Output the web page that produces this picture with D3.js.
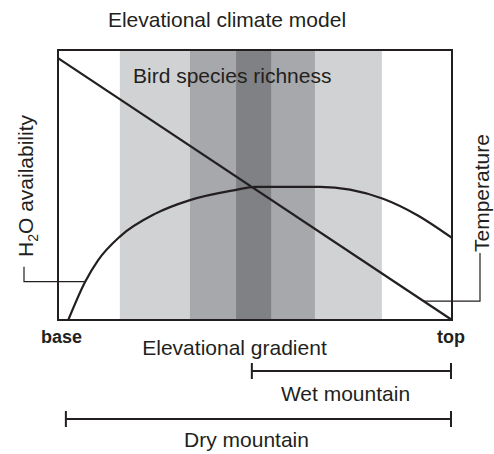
<!DOCTYPE html>
<html lang="en">
    <head>
        <meta charset="utf-8">
        <title>Elevational climate model</title>
        <script type="text/javascript" src="https://cdn.jsdelivr.net/npm/d3@7"></script>
        <style type="text/css">
            body { margin: 0; background: #fff; }
            text { font-family: "Liberation Sans", Arial, sans-serif; fill: #231f20; }
        </style>
    </head>
    <body>
        <script type="text/javascript">
        // richness bands along the gradient (percent of gradient)
        var bandLevels = ["low", "mid", "high"];
        var bandStart = [15.7, 33.5, 45.2];
        var bandEnd = [82.2, 65.2, 54.1];

        // H2O availability curve
        var h2oElevation = [2.6, 6.9, 10.2, 15.7, 24.6, 33.5, 44.9, 50, 66.5, 74.1, 82.5, 91.1, 100];
        var h2oValue = [0, 14.2, 22.2, 30.9, 39.3, 44.4, 48.1, 49.3, 49.3, 48.3, 44.9, 38.9, 30.4];

        // temperature line
        var tempElevation = [0, 100];
        var tempValue = [97, 0];

        // mountain ranges
        var rangeNames = ["Wet mountain", "Dry mountain"];
        var rangeStart = [49.2, 2];
        var rangeEnd = [100, 100];

        var w = 494;
        var h = 454;
        var ink = "#231f20";
        var bandColors = ["#d1d2d4", "#a7a8ab", "#808184"];

        var svg = d3.select("body")
                    .append("svg")
                    .attr("width", w)
                    .attr("height", h);

        var x = d3.scaleLinear().domain([0, 100]).range([58, 452]);
        var y = d3.scaleLinear().domain([0, 100]).range([320, 50]);

        // bands
        svg.selectAll("rect.band")
           .data(bandLevels)
           .enter()
           .append("rect")
           .attr("class", "band")
           .attr("x", function(d, i) { return x(bandStart[i]); })
           .attr("width", function(d, i) { return x(bandEnd[i]) - x(bandStart[i]); })
           .attr("y", y(100))
           .attr("height", y(0) - y(100))
           .attr("fill", function(d, i) { return bandColors[i]; });

        // frame
        svg.append("rect")
           .attr("x", x(0))
           .attr("y", y(100))
           .attr("width", x(100) - x(0))
           .attr("height", y(0) - y(100))
           .attr("fill", "none")
           .attr("stroke", ink)
           .attr("stroke-width", 2);

        var h2o = h2oElevation.map(function(e, i) { return [e, h2oValue[i]]; });
        var temp = tempElevation.map(function(e, i) { return [e, tempValue[i]]; });

        var line = d3.line()
            .x(function(d) { return x(d[0]); })
            .y(function(d) { return y(d[1]); });

        svg.append("path")
           .datum(h2o)
           .attr("d", line.curve(d3.curveMonotoneX))
           .attr("fill", "none")
           .attr("stroke", ink)
           .attr("stroke-width", 2.2);

        svg.append("path")
           .datum(temp)
           .attr("d", line.curve(d3.curveLinear))
           .attr("fill", "none")
           .attr("stroke", ink)
           .attr("stroke-width", 2.2);

        // leader lines
        var h2oHit = h2o[1];
        svg.append("path")
           .attr("d", "M24," + (y(h2oHit[1]) - 15) + "V" + y(h2oHit[1]) + "H" + x(h2oHit[0]))
           .attr("fill", "none")
           .attr("stroke", ink)
           .attr("stroke-width", 1.2);

        var tempAt = 7.0; // temperature leader height
        var tempHitX = 100 - tempAt * 100 / 97;
        svg.append("path")
           .attr("d", "M480," + (y(tempAt) - 48) + "V" + y(tempAt) + "H" + x(tempHitX))
           .attr("fill", "none")
           .attr("stroke", ink)
           .attr("stroke-width", 1.2);

        // texts
        svg.append("text")
           .attr("x", 227).attr("y", 27)
           .attr("text-anchor", "middle")
           .attr("font-size", "21px")
           .text("Elevational climate model");

        svg.append("text")
           .attr("x", 133).attr("y", 83)
           .attr("font-size", "21px")
           .text("Bird species richness");

        var h2oLabel = svg.append("text")
           .attr("transform", "translate(33,257) rotate(-90)")
           .attr("font-size", "21px");
        h2oLabel.append("tspan").text("H");
        h2oLabel.append("tspan").attr("font-size", "14px").attr("dy", 5).text("2");
        h2oLabel.append("tspan").attr("dy", -5).text("O availability");

        svg.append("text")
           .attr("transform", "translate(489,252) rotate(-90)")
           .attr("font-size", "21px")
           .text("Temperature");

        svg.append("text")
           .attr("x", 41).attr("y", 343)
           .attr("font-size", "18px")
           .attr("font-weight", "bold")
           .text("base");

        svg.append("text")
           .attr("x", 437).attr("y", 343)
           .attr("font-size", "18px")
           .attr("font-weight", "bold")
           .text("top");

        svg.append("text")
           .attr("x", 234.5).attr("y", 355)
           .attr("text-anchor", "middle")
           .attr("font-size", "21px")
           .text("Elevational gradient");

        // ranges
        var rangeY = [371, 419];
        var labelY = [401, 447];
        var labelX = [345.5, 246.5];
        var ranges = svg.selectAll("g.range")
           .data(rangeNames)
           .enter()
           .append("g")
           .attr("class", "range");

        ranges.append("path")
           .attr("d", function(d, i) {
               var a = x(rangeStart[i]), b = x(rangeEnd[i]) - 1, c = rangeY[i];
               return "M" + a + "," + c + "H" + b +
                      "M" + a + "," + (c - 8) + "V" + (c + 8) +
                      "M" + b + "," + (c - 8) + "V" + (c + 8);
           })
           .attr("fill", "none")
           .attr("stroke", ink)
           .attr("stroke-width", 2);

        ranges.append("text")
           .attr("x", function(d, i) { return labelX[i]; })
           .attr("y", function(d, i) { return labelY[i]; })
           .attr("text-anchor", "middle")
           .attr("font-size", "21px")
           .text(function(d) { return d; });
        </script>
    </body>
</html>
